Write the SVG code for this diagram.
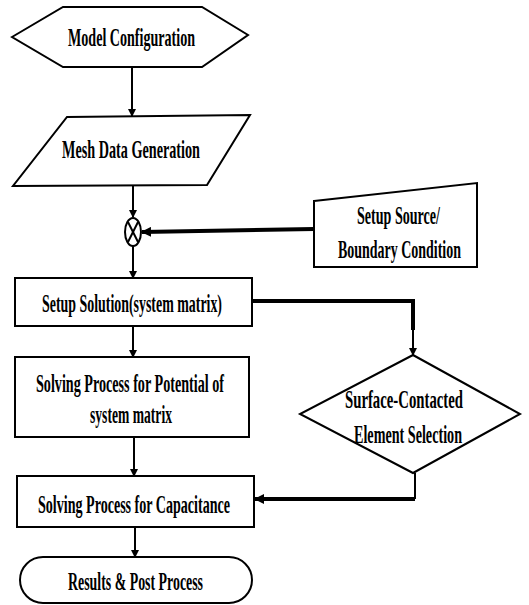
<svg xmlns="http://www.w3.org/2000/svg" width="529" height="605" viewBox="0 0 529 605">
<style>
.shape{fill:#fff;stroke:#000;stroke-width:2}
.t{font-family:"Liberation Serif",serif;font-weight:bold;font-size:26px;text-anchor:middle;fill:#000}
.c{fill:none;stroke:#000;stroke-width:2}
.thick{fill:none;stroke:#000;stroke-width:4}
</style>
<defs>
<marker id="ah" markerWidth="8" markerHeight="8" refX="7" refY="4" orient="auto" markerUnits="userSpaceOnUse">
<path d="M0,0 L8,4 L0,8 Z" fill="#000"/>
</marker>
<marker id="ahb" markerWidth="10" markerHeight="10" refX="9" refY="5" orient="auto" markerUnits="userSpaceOnUse">
<path d="M0,0 L10,5 L0,10 Z" fill="#000"/>
</marker>
</defs>
<g id="connectors">
<line class="c" x1="132" y1="67" x2="132" y2="116" marker-end="url(#ah)"/>
<line class="c" x1="133" y1="186" x2="133" y2="217" marker-end="url(#ah)"/>
<line class="thick" x1="314" y1="229" x2="142" y2="232" marker-end="url(#ahb)"/>
<line class="c" x1="133" y1="246" x2="133" y2="278" marker-end="url(#ah)"/>
<polyline class="thick" points="252,301 413,301 413,330"/>
<line class="c" x1="413" y1="328" x2="413" y2="355" marker-end="url(#ah)"/>
<line class="c" x1="133" y1="326" x2="133" y2="357" marker-end="url(#ah)"/>
<line class="c" x1="134" y1="437" x2="134" y2="476" marker-end="url(#ah)"/>
<line class="c" x1="415" y1="473" x2="415" y2="499"/>
<polyline class="thick" points="415,499 255,499" marker-end="url(#ahb)"/>
<line class="c" x1="135" y1="527" x2="135" y2="557" marker-end="url(#ah)"/>
</g>
<g id="model-config">
<polygon class="shape" points="12,37 63,7 202,7 248,35 202,67 63,67"/>
<text class="t" x="131.5" y="46" textLength="127" lengthAdjust="spacingAndGlyphs">Model Configuration</text>
</g>
<g id="mesh-data">
<polygon class="shape" points="67,117 250,115 207,185 13,186"/>
<text class="t" x="131" y="158" textLength="138" lengthAdjust="spacingAndGlyphs">Mesh Data Generation</text>
</g>
<g id="junction">
<ellipse class="shape" cx="133" cy="232" rx="8" ry="14"/>
<line class="c" x1="128" y1="222" x2="138" y2="242"/>
<line class="c" x1="138" y1="222" x2="128" y2="242"/>
</g>
<g id="setup-source">
<polygon class="shape" points="314,201 477,183 477,267 314,267"/>
<text class="t" x="398.5" y="224" textLength="83" lengthAdjust="spacingAndGlyphs">Setup Source/</text>
<text class="t" x="399.5" y="258" textLength="123" lengthAdjust="spacingAndGlyphs">Boundary Condition</text>
</g>
<g id="setup-solution">
<rect class="shape" x="15" y="278" width="237" height="48"/>
<text class="t" x="132" y="312" textLength="180" lengthAdjust="spacingAndGlyphs">Setup Solution(system matrix)</text>
</g>
<g id="solving-potential">
<rect class="shape" x="15" y="357" width="234" height="80"/>
<text class="t" x="130" y="392" textLength="188" lengthAdjust="spacingAndGlyphs">Solving Process for Potential of</text>
<text class="t" x="131" y="423" textLength="82" lengthAdjust="spacingAndGlyphs">system matrix</text>
</g>
<g id="surface-selection">
<polygon class="shape" points="413,355 520,414 413,473 300,414"/>
<text class="t" x="404" y="408" textLength="118" lengthAdjust="spacingAndGlyphs">Surface-Contacted</text>
<text class="t" x="408" y="443" textLength="108" lengthAdjust="spacingAndGlyphs">Element Selection</text>
</g>
<g id="solving-capacitance">
<rect class="shape" x="17" y="476" width="237" height="51"/>
<text class="t" x="134" y="513" textLength="192" lengthAdjust="spacingAndGlyphs">Solving Process for Capacitance</text>
</g>
<g id="results">
<rect class="shape" x="20" y="557" width="232" height="46" rx="23" ry="23"/>
<text class="t" x="135.5" y="590" textLength="135" lengthAdjust="spacingAndGlyphs">Results &amp; Post Process</text>
</g>
</svg>
